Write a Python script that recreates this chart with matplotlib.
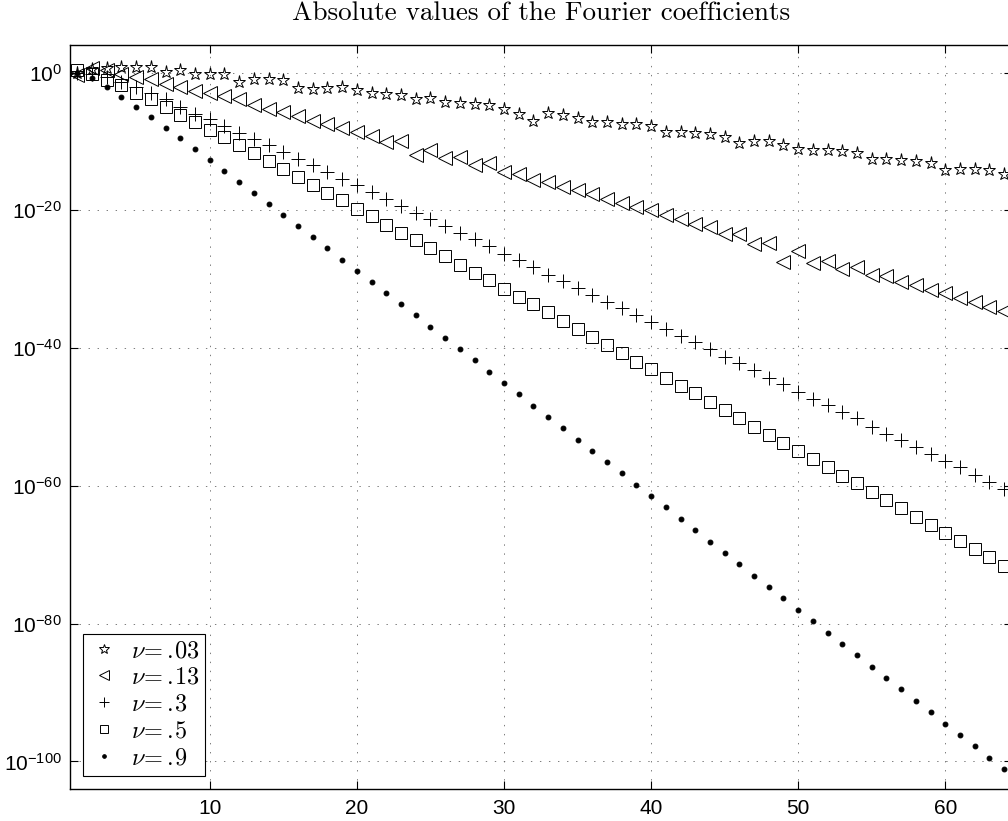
import numpy as np
from matplotlib import pyplot as plt
from matplotlib.ticker import FixedLocator, FuncFormatter, NullLocator

plt.rcParams['mathtext.fontset'] = 'custom'
plt.rcParams['mathtext.rm'] = 'cmr10'
plt.rcParams['mathtext.it'] = 'cmmi10'
plt.rcParams['mathtext.sf'] = 'Liberation Sans'
plt.rcParams['font.family'] = ['Liberation Sans', 'DejaVu Sans']
plt.rcParams['lines.scale_dashes'] = False

# coefficient index
n = np.arange(1, 65)

# log10 |c_n|, one list per nu
exp_003 = [0.0, 0.5, 0.65, 0.85, 0.8, 0.8, 0.1, 0.33, -0.15, -0.2,
           -0.2, -1.36, -0.95, -0.95, -1.05, -2.2, -2.32, -2.28, -2.14, -2.52,
           -2.9, -3.17, -3.24, -3.77, -3.65, -4.27, -4.45, -4.62, -4.68, -5.23,
           -5.95, -6.97, -5.85, -6.15, -6.56, -7.2, -7.2, -7.4, -7.52, -7.82,
           -8.66, -8.66, -8.75, -8.87, -9.34, -10.16, -9.97, -9.97, -10.45, -11.03,
           -11.28, -11.28, -11.42, -11.61, -12.48, -12.58, -12.73, -12.87, -13.06, -14.18,
           -14.03, -14.03, -14.18, -14.66]
exp_013 = [-0.4, 0.6, 0.3, -0.2, -0.64, -0.97, -1.6, -2.09, -2.67, -2.96,
           -3.4, -3.87, -4.65, -5.23, -5.7, -6.3, -7.0, -7.5, -8.1, -8.7,
           -9.2, -10.1, -9.9, -12.0, -11.2, -12.4, -12.2, -13.4, -13.2, -14.4,
           -14.7, -15.6, -15.9, -16.6, -17.0, -17.7, -18.3, -18.9, -19.5, -20.0,
           -20.7, -21.3, -22.0, -22.4, -23.5, -23.5, -24.9, -24.8, -27.5, -25.9,
           -27.6, -27.3, -28.45, -28.3, -29.4, -29.55, -30.4, -30.8, -31.6, -32.0,
           -32.8, -33.3, -34.0, -34.6]
exp_03 = [0.0, -0.2, -0.6, -1.3, -2.1, -2.9, -3.77, -4.99, -5.95, -6.78,
          -7.79, -8.71, -9.68, -10.55, -11.52, -12.58, -13.45, -14.42, -15.39, -16.36,
          -17.33, -18.39, -19.36, -20.32, -21.29, -22.26, -23.22, -24.19, -25.17, -26.27,
          -27.24, -28.21, -29.32, -30.29, -31.26, -32.22, -33.29, -34.25, -35.22, -36.2,
          -37.16, -38.23, -39.1, -40.16, -41.28, -42.23, -43.2, -44.27, -45.24, -46.35,
          -47.32, -48.29, -49.26, -50.2, -51.43, -52.4, -53.37, -54.34, -55.4, -56.37,
          -57.33, -58.45, -59.42, -60.48]
exp_05 = [0.3, -0.15, -1.02, -1.84, -2.9, -3.87, -4.99, -6.1, -7.17, -8.27,
          -9.34, -10.55, -11.67, -12.83, -13.93, -15.15, -16.26, -17.42, -18.53, -19.74,
          -20.81, -22.06, -23.22, -24.34, -25.46, -26.66, -27.87, -29.03, -30.15, -31.35,
          -32.57, -33.67, -34.83, -36.05, -37.26, -38.37, -39.58, -40.78, -42.0, -43.1,
          -44.32, -45.48, -46.59, -47.8, -49.0, -50.15, -51.4, -52.64, -53.76, -54.96,
          -56.17, -57.33, -58.55, -59.65, -60.87, -62.08, -63.28, -64.5, -65.7, -66.82,
          -68.03, -69.19, -70.39, -71.61]
exp_09 = [0.0, -0.73, -2.09, -3.49, -4.94, -6.44, -7.98, -9.54, -11.13, -12.73,
          -14.28, -15.87, -17.47, -19.07, -20.67, -22.31, -23.9, -25.5, -27.14, -28.79,
          -30.39, -32.03, -33.63, -35.23, -36.92, -38.56, -40.2, -41.8, -43.45, -45.1,
          -46.73, -48.39, -49.98, -51.67, -53.32, -54.92, -56.56, -58.2, -59.85, -61.5,
          -63.13, -64.79, -66.47, -68.13, -69.77, -71.41, -73.06, -74.7, -76.34, -77.99,
          -79.68, -81.33, -82.98, -84.62, -86.27, -87.91, -89.55, -91.2, -92.84, -94.54,
          -96.18, -97.82, -99.48, -101.12]

nus = ['03', '13', '3', '5', '9']
labels = [r'$\nu\!=\!\,.\!%s$' % v for v in nus]
xticks = [10, 20, 30, 40, 50, 60]
ytick_exps = [-100, -80, -60, -40, -20, 0]

fig = plt.figure(figsize=(10.08, 8.21), dpi=100)
ax = fig.add_axes([0.0694, 0.039, 0.9341, 0.9062])

mk = dict(linestyle='none', color='k', markeredgecolor='k', markeredgewidth=0.7)
ax.plot(n, 10.0**np.array(exp_003), marker='*', markersize=9.5, markerfacecolor='none', label=labels[0], **mk)
ax.plot(n, 10.0**np.array(exp_013), marker='<', markersize=10, markerfacecolor='none', label=labels[1], **mk)
ax.plot(n, 10.0**np.array(exp_03), marker='+', markersize=10, label=labels[2], **mk)
ax.plot(n, 10.0**np.array(exp_05), marker='s', markersize=8, markerfacecolor='none', label=labels[3], **mk)
ax.plot(n, 10.0**np.array(exp_09), marker='.', markersize=7, label=labels[4], **mk)

ax.set_yscale('log')
ax.set_xlim(0.5, 64.5)
ax.set_ylim(1e-104, 1e4)
ax.xaxis.set_major_locator(FixedLocator(xticks))
ax.yaxis.set_major_locator(FixedLocator([10.0**e for e in ytick_exps]))
ax.yaxis.set_minor_locator(NullLocator())
ax.yaxis.set_major_formatter(FuncFormatter(lambda v, p: r'$\mathsf{10^{%d}}$' % round(np.log10(v))))
ax.xaxis.set_major_formatter(FuncFormatter(lambda v, p: '%d' % v))
ax.tick_params(direction='in', length=6, width=0.8, top=True, right=True, labelsize=15)
ax.tick_params(axis='x', pad=7)
ax.tick_params(axis='y', pad=6)
ax.grid(True, color='0.4', linestyle=(0, (1, 5.5)), linewidth=0.6)
for s in ax.spines.values():
    s.set_linewidth(1.0)

ax.set_title('Absolute values of the Fourier coefficients', fontfamily='cmr10', fontsize=19.5, pad=18)

leg = ax.legend(loc='lower left', prop={'size': 17.5},
                fancybox=False, framealpha=1, edgecolor='k', markerscale=0.75,
                borderaxespad=0.55, handlelength=1.2, handletextpad=0.5, labelspacing=0.2,
                borderpad=0.25, numpoints=1)
leg.get_frame().set_linewidth(0.8)

fig.savefig('out.png', dpi=100)
